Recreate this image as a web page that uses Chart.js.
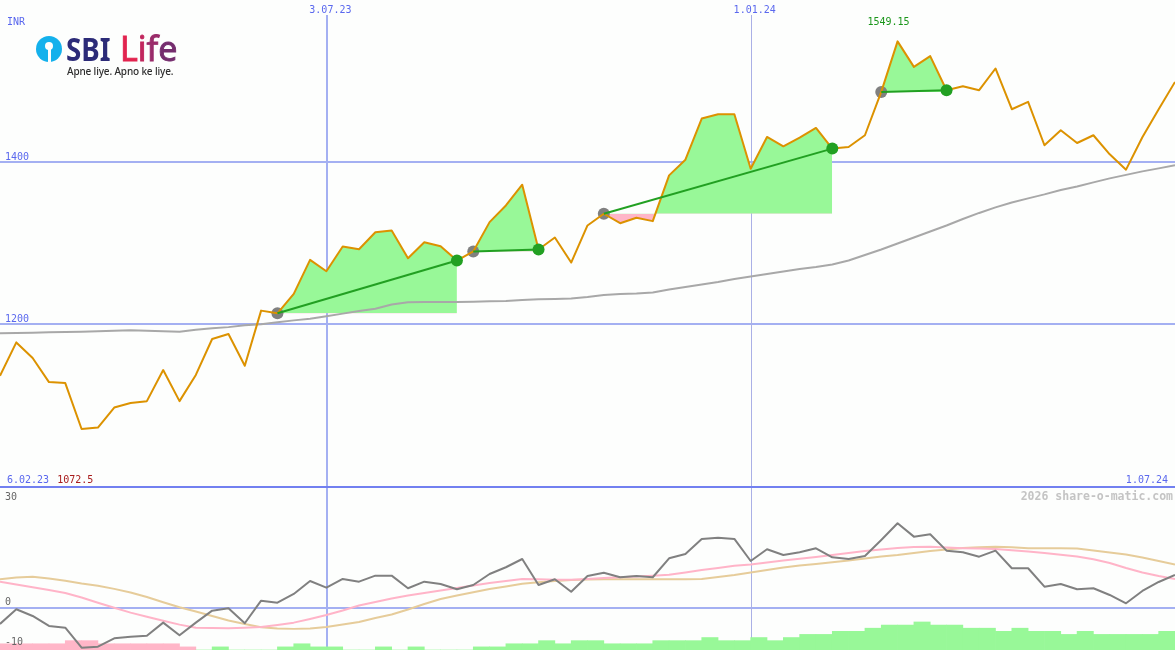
<!DOCTYPE html>
<html>
<head>
<meta charset="utf-8">
<title>SBI Life</title>
<script src="https://cdn.jsdelivr.net/npm/chart.js@4.4.1/dist/chart.umd.min.js"></script>
<style>
  html, body { margin:0; padding:0; background:#fdfefd; }
  #wrap { position:relative; width:1175px; height:650px; overflow:hidden; background:#fdfefd; }
  #cMain { position:absolute; left:0; top:0; }
  #cLow { position:absolute; left:0; top:488px; }
  .logo-icon { position:absolute; left:36px; top:36px; width:26px; height:26px; border-radius:50%; background:#14b1ec; }
  .logo-icon .hole { position:absolute; left:9px; top:6px; width:8px; height:8px; border-radius:50%; background:#fdfefd; }
  .logo-icon .slot { position:absolute; left:11.5px; top:10px; width:3px; height:16px; background:#fdfefd; }
  .sbi { position:absolute; left:66px; top:31.7px; font:700 33px/33px "Noto Sans"; color:#2c2b78; transform:scaleX(0.84); transform-origin:0 0; white-space:nowrap; }
  .life { position:absolute; left:120px; top:30.8px; font:400 34px/34px "Noto Sans"; white-space:nowrap; -webkit-text-stroke:0.9px currentColor; }
  .life .a { color:#e2244f; } .life .b { color:#c2275e; } .life .c { color:#9a2c6a; } .life .d { color:#752d6e; }
  .tag { position:absolute; left:67px; top:65.6px; font:500 10px/10px "Noto Sans"; color:#2e2e2e; letter-spacing:-0.15px; white-space:nowrap; }
</style>
</head>
<body>
<div id="wrap">
  <canvas id="cMain" width="1175" height="488"></canvas>
  <canvas id="cLow" width="1175" height="162"></canvas>
  <div class="logo-icon"><div class="hole"></div><div class="slot"></div></div>
  <span class="sbi">SBI</span>
  <span class="life"><span class="a">L</span><span class="b">i</span><span class="c">f</span><span class="d">e</span></span>
  <div class="tag">Apne liye. Apno ke liye.</div>
</div>
<script>
// ---------- DATA (weekly, index 0 .. 72) ----------
const currency = 'INR';
const startLabel = '6.02.23';
const endLabel = '1.07.24';
const xTickLabels = ['3.07.23', '1.01.24'];
const xTickIndex = [20, 46];
const priceGridValues = [1400, 1200];
const lowerTickValues = [30, 0, -10];
const watermark = '2026 share-o-matic.com';

const price = [
  1138.0, 1179.0, 1159.8, 1130.2, 1129.0, 1072.5, 1074.3, 1098.9, 1104.4, 1106.8,
  1145.0, 1106.8, 1139.0, 1183.2, 1189.4, 1150.3, 1218.1, 1214.8, 1238.6, 1280.5,
  1266.5, 1296.9, 1293.6, 1314.5, 1316.6, 1282.5, 1302.2, 1297.3, 1279.7, 1290.8,
  1326.9, 1347.4, 1372.9, 1293.2, 1308.0, 1277.2, 1322.8, 1337.2, 1325.6, 1332.3,
  1328.1, 1384.4, 1403.7, 1454.2, 1459.5, 1459.5, 1392.6, 1431.6, 1420.1, 1430.8,
  1442.7, 1417.3, 1419.3, 1433.7, 1487.0, 1549.15, 1517.8, 1531.0, 1489.1, 1494.0,
  1489.1, 1515.8, 1465.7, 1474.7, 1421.4, 1439.8, 1424.2, 1433.7, 1410.3, 1391.4,
  1431.2, 1465.7, 1499.3
];
const movingAvg = [
  1190.4, 1190.6, 1191.0, 1191.6, 1191.8, 1192.2, 1192.6, 1193.4, 1194.1, 1193.4,
  1192.8, 1192.2, 1194.7, 1196.3, 1197.8, 1200.0, 1201.4, 1203.9, 1206.1, 1208.2,
  1211.1, 1214.4, 1217.5, 1220.5, 1225.5, 1228.3, 1228.6, 1228.6, 1228.6, 1228.9,
  1229.5, 1229.8, 1231.0, 1232.0, 1232.5, 1232.9, 1234.7, 1237.2, 1238.4, 1239.0,
  1240.3, 1244.0, 1247.0, 1250.1, 1253.2, 1256.9, 1260.0, 1263.0, 1266.1, 1269.2,
  1271.7, 1274.8, 1279.7, 1286.5, 1293.2, 1300.6, 1308.0, 1315.4, 1322.8, 1330.8,
  1338.2, 1345.0, 1351.1, 1356.1, 1361.0, 1366.5, 1370.8, 1375.8, 1380.7, 1385.0,
  1389.3, 1393.0, 1396.7
];
const tradeEntry = [17, 29, 37, 54];
const tradeExit  = [28, 33, 51, 58];

const oscillator = [
  -4.00, -0.40, -2.04, -4.49, -4.92, -9.83, -9.58, -7.52, -7.12, -6.88,
  -3.68, -6.78, -3.68, -0.73, -0.15, -3.83, 1.72, 1.22, 3.36, 6.56,
  4.92, 7.05, 6.39, 7.87, 7.87, 4.77, 6.39, 5.82, 4.52, 5.58,
  8.28, 9.93, 11.96, 5.58, 6.98, 3.93, 7.79, 8.60, 7.47, 7.79,
  7.47, 12.13, 13.19, 16.88, 17.20, 16.88, 11.47, 14.35, 12.94, 13.61,
  14.59, 12.38, 11.96, 12.70, 16.64, 20.74, 17.45, 18.03, 14.01, 13.61,
  12.53, 14.01, 9.68, 9.68, 5.16, 5.82, 4.52, 4.77, 3.12, 1.08,
  4.10, 6.31, 8.04
];
const signalFast = [
  6.39, 5.70, 5.01, 4.35, 3.61, 2.51, 1.22, 0.00, -1.22, -2.21,
  -3.22, -4.17, -4.92, -4.98, -5.06, -4.92, -4.74, -4.25, -3.68, -2.78,
  -1.79, -0.69, 0.54, 1.40, 2.26, 3.00, 3.61, 4.23, 4.84, 5.45,
  6.07, 6.56, 7.05, 6.98, 6.88, 6.86, 7.05, 7.30, 7.47, 7.67,
  7.84, 8.08, 8.65, 9.26, 9.75, 10.30, 10.62, 11.11, 11.60, 12.04,
  12.45, 12.94, 13.44, 13.93, 14.30, 14.67, 14.91, 14.99, 14.79, 14.62,
  14.52, 14.42, 14.10, 13.81, 13.44, 13.02, 12.58, 11.89, 10.99, 9.75,
  8.65, 7.79, 7.05
];
const signalSlow = [
  6.98, 7.42, 7.61, 7.18, 6.61, 5.94, 5.41, 4.62, 3.73, 2.63,
  1.35, 0.12, -0.93, -2.04, -3.15, -4.00, -4.79, -5.11, -5.21, -5.11,
  -4.74, -4.13, -3.51, -2.53, -1.67, -0.44, 0.91, 2.14, 3.00, 3.81,
  4.60, 5.21, 5.90, 6.24, 6.56, 6.80, 6.93, 6.98, 6.98, 6.98,
  6.98, 6.98, 7.00, 7.05, 7.55, 8.04, 8.65, 9.26, 9.87, 10.37,
  10.74, 11.15, 11.60, 12.09, 12.58, 12.94, 13.44, 13.93, 14.30, 14.67,
  14.87, 14.99, 14.84, 14.62, 14.59, 14.59, 14.55, 14.06, 13.57, 13.07,
  12.33, 11.47, 10.62
];
const histogram = [
  -2, -2, -2, -2, -3, -3, -2, -2, -2, -2,
  -2, -1, 0, 1, 0, 0, 0, 1, 2, 1,
  1, 0, 0, 1, 0, 1, 0, 0, 0, 1,
  1, 2, 2, 3, 2, 3, 3, 2, 2, 2,
  3, 3, 3, 4, 3, 3, 4, 3, 4, 5,
  5, 6, 6, 7, 8, 8, 9, 8, 8, 7,
  7, 6, 7, 6, 6, 5, 6, 5, 5, 5,
  5, 6
];

// ---------- STYLE ----------
const C = {
  price: '#dc9200', ma: '#a8a8a8', fillUp: '#98f898', fillDown: '#ffb6c8',
  tradeLine: '#22a022', entryDot: '#808080', exitDot: '#22a022',
  grid: '#a4b0f2', gridThin: '#aab0e6', axis: '#7280f0',
  text: '#5a68ee', maxText: '#1a961a', minText: '#a81c1c',
  osc: '#808080', fast: '#ffb4c8', slow: '#e6cc9a', lowText: '#666666', mark: '#c4c4c4'
};
const MONO = '"DejaVu Sans Mono", monospace';
const lastIndex = price.length - 1;
const pts = arr => arr.map((v, i) => ({ x: i, y: v }));

// ---------- MAIN PANEL ----------
const mainDatasets = [];
tradeEntry.forEach((e, k) => {
  const x = tradeExit[k];
  mainDatasets.push({
    data: price.slice(e, x + 1).map((v, j) => ({ x: e + j, y: v })),
    borderWidth: 0, pointRadius: 0,
    fill: { target: { value: price[e] }, above: C.fillUp, below: C.fillDown },
    order: 20
  });
});
mainDatasets.push({ data: pts(movingAvg), borderColor: C.ma, borderWidth: 2, pointRadius: 0, fill: false, order: 10 });
mainDatasets.push({ data: tradeEntry.map(i => ({ x: i, y: price[i] })), showLine: false, pointRadius: 6,
  pointBackgroundColor: C.entryDot, pointBorderWidth: 0, order: 8 });
mainDatasets.push({ data: pts(price), borderColor: C.price, borderWidth: 2, pointRadius: 0, fill: false, order: 5 });
tradeEntry.forEach((e, k) => {
  const x = tradeExit[k];
  mainDatasets.push({ data: [{ x: e, y: price[e] }, { x: x, y: price[x] }], borderColor: C.tradeLine,
    borderWidth: 2, pointRadius: 0, fill: false, order: 3 });
});
mainDatasets.push({ data: tradeExit.map(i => ({ x: i, y: price[i] })), showLine: false, pointRadius: 6,
  pointBackgroundColor: C.exitDot, pointBorderWidth: 0, order: 1 });

const mainDecor = {
  id: 'mainDecor',
  beforeDatasetsDraw(chart) {
    const { ctx, chartArea: a, scales: { x, y } } = chart;
    ctx.save();
    ctx.fillStyle = C.grid;
    priceGridValues.forEach(v => {
      const py = Math.round(y.getPixelForValue(v));
      ctx.fillRect(a.left, py - 2, a.right - a.left, 2);
    });
    xTickIndex.forEach((i, k) => {
      const px = Math.round(x.getPixelForValue(i));
      if (k === 0) { ctx.fillStyle = C.grid; ctx.fillRect(px, 15, 2, a.bottom - 15); }
      else { ctx.fillStyle = C.gridThin; ctx.fillRect(px, 15, 1, a.bottom - 15); }
    });
    ctx.fillStyle = C.axis;
    const by = Math.round(y.getPixelForValue(y.min));
    ctx.fillRect(a.left, by - 2, a.right - a.left, 2);
    ctx.restore();
  },
  afterDraw(chart) {
    const { ctx, chartArea: a, scales: { x, y } } = chart;
    ctx.save();
    ctx.font = '10px ' + MONO;
    ctx.textBaseline = 'alphabetic';
    ctx.fillStyle = C.text;
    ctx.textAlign = 'left';
    ctx.fillText(currency, 7, 25);
    priceGridValues.forEach(v => ctx.fillText(String(v), 5, Math.round(y.getPixelForValue(v)) - 3));
    ctx.textAlign = 'center';
    xTickIndex.forEach((i, k) => ctx.fillText(xTickLabels[k], x.getPixelForValue(i) + 4, 13));
    const maxV = Math.max(...price), maxI = price.indexOf(maxV);
    ctx.fillStyle = C.maxText;
    ctx.fillText(String(maxV), x.getPixelForValue(maxI) - 9, 25);
    const by = a.bottom - 5;
    ctx.textAlign = 'left';
    ctx.fillStyle = C.text;
    ctx.fillText(startLabel, 7, by);
    const minV = Math.min(...price);
    ctx.fillStyle = C.minText;
    ctx.fillText(String(minV), 7 + ctx.measureText(startLabel).width + 8, by);
    ctx.textAlign = 'right';
    ctx.fillStyle = C.text;
    ctx.fillText(endLabel, a.right - 7, by);
    ctx.restore();
  }
};

const commonOpts = {
  responsive: false, animation: false, events: [],
  layout: { padding: 0, autoPadding: false },
  plugins: { legend: { display: false }, tooltip: { enabled: false } },
  elements: { line: { tension: 0, borderJoinStyle: 'round' } }
};

new Chart(document.getElementById('cMain'), {
  type: 'line',
  data: { datasets: mainDatasets },
  options: Object.assign({}, commonOpts, {
    scales: {
      x: { type: 'linear', min: 0, max: lastIndex, display: false, offset: false },
      y: { type: 'linear', min: 1000, max: 1600, display: false }
    }
  }),
  plugins: [mainDecor]
});

// ---------- LOWER PANEL ----------
const lowDecor = {
  id: 'lowDecor',
  beforeDatasetsDraw(chart) {
    const { ctx, chartArea: a, scales: { x, y } } = chart;
    ctx.save();
    ctx.fillStyle = C.grid;
    const zy = Math.round(y.getPixelForValue(0));
    ctx.fillRect(a.left, zy - 1, a.right - a.left, 2);
    xTickIndex.forEach((i, k) => {
      const px = Math.round(x.getPixelForValue(i));
      if (k === 0) { ctx.fillStyle = C.grid; ctx.fillRect(px, a.top, 2, a.bottom - a.top); }
      else { ctx.fillStyle = C.gridThin; ctx.fillRect(px, a.top, 1, a.bottom - a.top); }
    });
    ctx.restore();
  },
  afterDraw(chart) {
    const { ctx, chartArea: a, scales: { y } } = chart;
    ctx.save();
    ctx.textBaseline = 'alphabetic';
    ctx.font = '10px ' + MONO;
    ctx.fillStyle = C.lowText;
    ctx.textAlign = 'left';
    lowerTickValues.forEach(v => {
      const py = Math.max(y.getPixelForValue(v) - 3, a.top + 11.5);
      ctx.fillText(String(v), 5, py);
    });
    ctx.font = 'bold 11.5px ' + MONO;
    ctx.fillStyle = C.mark;
    ctx.textAlign = 'right';
    ctx.fillText(watermark, a.right - 2, a.top + 12);
    ctx.restore();
  }
};

new Chart(document.getElementById('cLow'), {
  type: 'line',
  data: {
    datasets: [
      { type: 'bar', yAxisID: 'yh', order: 20,
        data: histogram.map((v, i) => ({ x: i + 0.5, y: Math.abs(v) })),
        backgroundColor: histogram.map(v => v < 0 ? C.fillDown : C.fillUp),
        borderWidth: 0, barPercentage: 1, categoryPercentage: 1 },
      { data: pts(signalSlow), borderColor: C.slow, borderWidth: 2, pointRadius: 0, fill: false, order: 6 },
      { data: pts(signalFast), borderColor: C.fast, borderWidth: 2, pointRadius: 0, fill: false, order: 5 },
      { data: pts(oscillator), borderColor: C.osc, borderWidth: 2, pointRadius: 0, fill: false, order: 4 }
    ]
  },
  options: Object.assign({}, commonOpts, {
    scales: {
      x: { type: 'linear', min: 0, max: lastIndex, display: false, offset: false },
      y: { type: 'linear', min: -10.4, max: 29.4, display: false },
      yh: { type: 'linear', min: 0, max: 52, display: false }
    }
  }),
  plugins: [lowDecor]
});
</script>
</body>
</html>
